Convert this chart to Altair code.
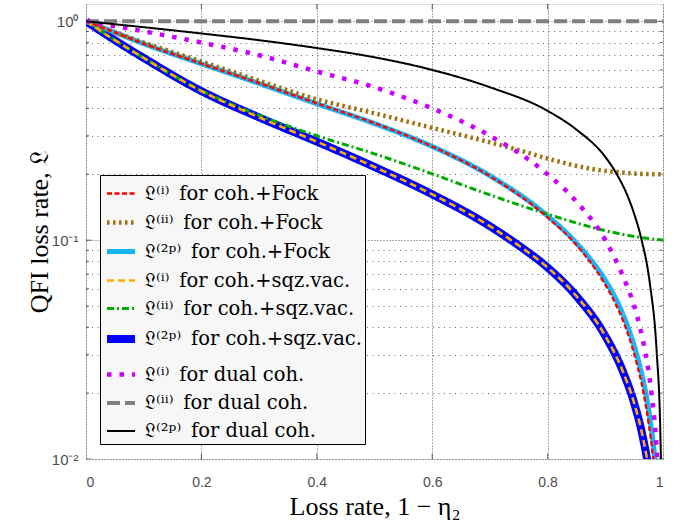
import altair as alt
import pandas as pd

# ---- series labels (legend order) ----
labels = [
    "𝔏⁽ⁱ⁾\u2002for coh.+Fock",
    "𝔏⁽ⁱⁱ⁾\u2002for coh.+Fock",
    "𝔏⁽²ᵖ⁾\u2002for coh.+Fock",
    "𝔏⁽ⁱ⁾\u2002for coh.+sqz.vac.",
    "𝔏⁽ⁱⁱ⁾\u2002for coh.+sqz.vac.",
    "𝔏⁽²ᵖ⁾\u2002for coh.+sqz.vac.",
    "𝔏⁽ⁱ⁾\u2002for dual coh.",
    "𝔏⁽ⁱⁱ⁾\u2002for dual coh.",
    "𝔏⁽²ᵖ⁾\u2002for dual coh.",
]

# ---- values ----
fock_i_x = [0, 0.05, 0.1, 0.2, 0.3, 0.4, 0.5, 0.6, 0.7, 0.8, 0.85, 0.9, 0.92, 0.94, 0.955, 0.966, 0.975, 0.983, 0.99]
fock_i_y = [1.0, 0.89, 0.79, 0.64, 0.5215, 0.422, 0.3425, 0.268, 0.196, 0.127, 0.095, 0.0625, 0.0498, 0.0368, 0.027, 0.0202, 0.0146, 0.0100, 0.006]

fock_ii_x = [0, 0.05, 0.1, 0.2, 0.3, 0.4, 0.5, 0.6, 0.7, 0.75, 0.8, 0.875, 0.925, 0.96, 1.0]
fock_ii_y = [1.0, 0.89, 0.80, 0.655, 0.535, 0.44, 0.38, 0.326, 0.28, 0.258, 0.236, 0.212, 0.204, 0.201, 0.200]

fock_2p_x = [0, 0.05, 0.1, 0.2, 0.3, 0.4, 0.5, 0.6, 0.7, 0.8, 0.85, 0.9, 0.92, 0.94, 0.955, 0.966, 0.975, 0.983, 0.99]
fock_2p_y = [1.0, 0.89, 0.79, 0.64, 0.52, 0.42, 0.341, 0.268, 0.197, 0.129, 0.097, 0.0655, 0.0528, 0.0395, 0.0297, 0.0227, 0.0168, 0.0118, 0.0078]

sqz_i_x = [0, 0.05, 0.1, 0.2, 0.3, 0.4, 0.5, 0.6, 0.7, 0.75, 0.8, 0.85, 0.9, 0.93, 0.95, 0.965, 0.975, 0.985]
sqz_i_y = [1.0, 0.82, 0.68, 0.48, 0.364, 0.282, 0.216, 0.162, 0.1158, 0.0945, 0.075, 0.0555, 0.0365, 0.0253, 0.018, 0.0126, 0.009, 0.0054]

sqz_ii_x = [0, 0.05, 0.1, 0.2, 0.3, 0.4, 0.5, 0.6, 0.7, 0.8, 0.9, 0.95, 1.0]
sqz_ii_y = [1.0, 0.82, 0.68, 0.482, 0.372, 0.300, 0.248, 0.201, 0.161, 0.1315, 0.1105, 0.104, 0.100]

sqz_2p_x = sqz_i_x
sqz_2p_y = sqz_i_y

dual_i_x = [0, 0.1, 0.2, 0.3, 0.4, 0.5, 0.6, 0.7, 0.8, 0.85, 0.9, 0.93, 0.95, 0.96, 0.97, 0.98, 0.99, 0.995]
dual_i_y = [1.0, 0.9, 0.8, 0.7, 0.59, 0.5, 0.4, 0.3, 0.2, 0.15, 0.1, 0.069, 0.05, 0.04, 0.03, 0.02, 0.01, 0.005]

dual_ii_x = [0, 1.0]
dual_ii_y = [1.0, 1.0]

dual_2p_x = [0, 0.1, 0.2, 0.3, 0.4, 0.5, 0.6, 0.7, 0.8, 0.85, 0.9, 0.92, 0.94, 0.95, 0.963, 0.977, 0.989, 0.995, 0.998]
dual_2p_y = [1.0, 0.94, 0.88, 0.82, 0.755, 0.685, 0.60, 0.50, 0.39, 0.32, 0.24, 0.20, 0.156, 0.132, 0.10, 0.064, 0.031, 0.0145, 0.006]

series_x = [fock_i_x, fock_ii_x, fock_2p_x, sqz_i_x, sqz_ii_x, sqz_2p_x, dual_i_x, dual_ii_x, dual_2p_x]
series_y = [fock_i_y, fock_ii_y, fock_2p_y, sqz_i_y, sqz_ii_y, sqz_2p_y, dual_i_y, dual_ii_y, dual_2p_y]

# axis tick positions
x_ticks = [0, 0.2, 0.4, 0.6, 0.8, 1]
y_major = [0.01, 0.1, 1.0]
y_minor = [0.02, 0.03, 0.04, 0.05, 0.06, 0.07, 0.08, 0.09,
           0.2, 0.3, 0.4, 0.5, 0.6, 0.7, 0.8, 0.9]

# ---- styles ----
colors = ["#ff0000", "#a0700a", "#1ab3f5", "#ffad00", "#00aa00", "#0000ff", "#cc00ff", "#7f7f7f", "#000000"]
dashes = [[5, 2.5], [2.5, 3.5], [1, 0], [7, 4], [7, 3, 2, 3], [1, 0], [4.5, 8], [13, 5], [1, 0]]
widths = [2.3, 4.5, 5, 2.6, 3, 8, 4.5, 4, 2]

# drawing order (bottom to top)
zorder = [5, 2, 1, 4, 7, 0, 3, 6, 8]

rows = []
for lab, xs, ys in zip(labels, series_x, series_y):
    for xv, yv in zip(xs, ys):
        rows.append({"series": lab, "x": xv, "y": yv})
df = pd.DataFrame(rows)

major_test = "datum.value == 1 || datum.value == 0.1 || datum.value == 0.01"
y_values = sorted(y_major + y_minor)

x_enc = alt.X(
    "x:Q",
    scale=alt.Scale(domain=[0, 1], nice=False, zero=False),
    axis=alt.Axis(
        values=x_ticks,
        format="~g",
        title="Loss rate, 1 − η₂",
        grid=True,
        gridDash=[1, 2],
        gridColor="#333333",
        gridOpacity=0.8,
        ticks=False,
        domain=False,
        labelFont="Liberation Sans",
        labelFontSize=14,
        labelColor="#4d4d4d",
        labelPadding=16,
        titleFont="Liberation Serif",
        titleFontSize=26,
        titleFontWeight="normal",
        titleColor="black",
        titleX=288.5,
        titleY=55,
        titleBaseline="alphabetic",
        titleAlign="center",
    ),
)

y_enc = alt.Y(
    "y:Q",
    scale=alt.Scale(type="log", domain=[0.01, 1.2], nice=False),
    axis=alt.Axis(
        values=y_values,
        labelExpr="datum.value == 1 ? '10⁰' : datum.value == 0.1 ? '10⁻¹' : datum.value == 0.01 ? '10⁻²' : ''",
        labelOverlap=False,
        title="QFI loss rate, 𝔏",
        grid=True,
        gridDash={"condition": {"test": major_test, "value": [1, 2]}, "value": [1, 4.5]},
        gridColor={"condition": {"test": major_test, "value": "#333333"}, "value": "#444444"},
        gridOpacity=0.8,
        ticks=False,
        domain=False,
        labelFont="Liberation Sans",
        labelFontSize=15,
        labelColor="#4d4d4d",
        labelPadding=8,
        titleFont="Liberation Serif",
        titleFontSize=26,
        titleFontWeight="normal",
        titleColor="black",
        titleX=-39,
        titleY=227.5,
        titleAngle=-90,
        titleBaseline="alphabetic",
        titleAlign="center",
    ),
)

legend = alt.Legend(
    orient="none",
    legendX=14,
    legendY=171,
    title=None,
    fillColor="#f7f7f7",
    strokeColor="#000000",
    padding=3,
    symbolType="stroke",
    symbolSize=784,
    labelFont="DejaVu Serif",
    labelFontSize=19.5,
    labelColor="black",
    rowPadding=3,
    labelOffset=5,
    labelLimit=400,
)

color_enc = alt.Color("series:N", scale=alt.Scale(domain=labels, range=colors), legend=legend)
dash_enc = alt.StrokeDash("series:N", scale=alt.Scale(domain=labels, range=dashes), legend=legend)
width_enc = alt.StrokeWidth("series:N", scale=alt.Scale(type="ordinal", domain=labels, range=widths), legend=legend)

layers = []
for i in zorder:
    layers.append(
        alt.Chart(df)
        .transform_filter(alt.datum.series == labels[i])
        .mark_line(clip=True, interpolate="monotone", strokeCap="butt")
        .encode(x=x_enc, y=y_enc, color=color_enc, strokeDash=dash_enc, strokeWidth=width_enc)
    )

# inward axis ticks (half of each tick is clipped away by the plot frame)
tick_rows_major = [{"x": xv, "y": yv} for xv in [0, 1] for yv in y_major]
tick_rows_minor = [{"x": xv, "y": yv} for xv in [0, 1] for yv in y_minor]
tick_rows_x = [{"x": xv, "y": yv} for yv in [0.01, 1.2] for xv in x_ticks[1:-1]]

ticks_major = alt.Chart(pd.DataFrame(tick_rows_major)).mark_tick(
    orient="horizontal", size=11, thickness=1, color="#262626", clip=True
).encode(x=x_enc, y=y_enc)
ticks_minor = alt.Chart(pd.DataFrame(tick_rows_minor)).mark_tick(
    orient="horizontal", size=6, thickness=1, color="#262626", clip=True
).encode(x=x_enc, y=y_enc)
ticks_x = alt.Chart(pd.DataFrame(tick_rows_x)).mark_tick(
    orient="vertical", size=11, thickness=1, color="#262626", clip=True
).encode(x=x_enc, y=y_enc)

chart = (
    alt.layer(ticks_major, ticks_minor, ticks_x, *layers)
    .properties(
        width=577,
        height=455,
        padding={"left": 86, "top": 4, "right": 24, "bottom": 67},
        autosize=alt.AutoSizeParams(type="none"),
    )
    .configure_view(stroke="#262626", strokeWidth=1)
    .configure_legend(labelFont="DejaVu Serif", labelFontSize=19.5)
    .configure(background="white")
)

chart.save("out.html", embed_options={"renderer": "svg", "actions": False})
